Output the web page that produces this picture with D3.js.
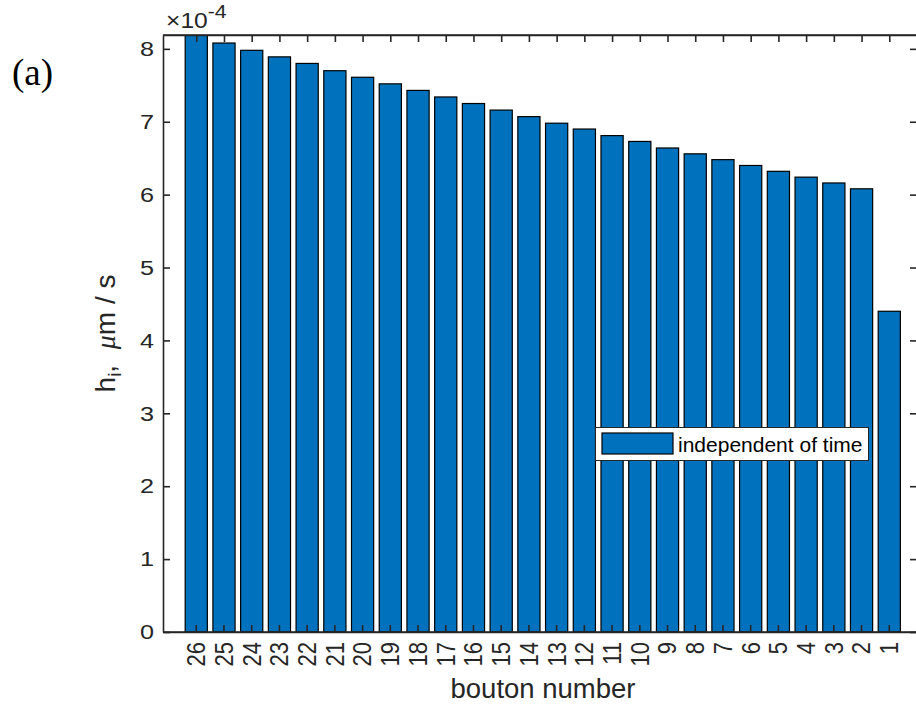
<!DOCTYPE html>
<html>
<head>
<meta charset="utf-8">
<script src="https://cdn.jsdelivr.net/npm/d3@7"></script>
<style>
  html, body { margin: 0; padding: 0; background: #fff; }
  svg { display: block; }
</style>
</head>
<body>
<svg id="chart" width="916" height="710"></svg>
<script>
// ---- data ----
const boutons = [26, 25, 24, 23, 22, 21, 20, 19, 18, 17, 16, 15, 14, 13, 12, 11, 10, 9, 8, 7, 6, 5, 4, 3, 2, 1];
const hValues = [8.19, 8.08, 7.98, 7.89, 7.80, 7.70, 7.61, 7.52, 7.43, 7.34, 7.25, 7.16, 7.07, 6.98, 6.90, 6.81, 6.73, 6.64, 6.56, 6.48, 6.40, 6.32, 6.24, 6.16, 6.08, 4.40]; // ×10^-4 µm/s
const yTicks = [0, 1, 2, 3, 4, 5, 6, 7, 8];
const xTicks = boutons.slice();
const seriesName = "independent of time";
const yExponent = "-4";

// ---- layout ----
const L = 163, R = 917, T = 35, B = 632;
const axisColor = "#262626";
const barColor = "#0072BD";
const sans = "'Liberation Sans', Arial, Helvetica, sans-serif";
const serif = "'Liberation Serif', 'Times New Roman', serif";

const svg = d3.select("#chart");

const x = d3.scaleLinear().domain([27.2, 0]).range([L, R]);
const y = d3.scaleLinear().domain([0, d3.max(hValues)]).range([B, T]);
const barW = 0.8 * Math.abs(x(1) - x(0));

svg.append("defs").append("clipPath").attr("id", "plotclip")
  .append("rect").attr("x", L).attr("y", T).attr("width", R - L).attr("height", B - T);

// bars
svg.append("g").attr("clip-path", "url(#plotclip)")
  .selectAll("rect").data(boutons.map((b, i) => ({ b, v: hValues[i] })))
  .join("rect")
  .attr("x", d => x(d.b) - barW / 2)
  .attr("width", barW)
  .attr("y", d => y(d.v))
  .attr("height", d => B - y(d.v))
  .attr("fill", barColor)
  .attr("stroke", "#000")
  .attr("stroke-width", 1.2);

// axes (MATLAB style: inward ticks, box)
const tickLen = 7;
const gAx = svg.append("g");
const sy = 1.2;   // horizontal stretch of y tick labels
const sx = 1.15;  // stretch of x tick labels (along screen x)

// bottom axis
const xAxisB = d3.axisBottom(x).tickValues(xTicks).tickSize(-tickLen).tickSizeOuter(0).tickFormat(d3.format("d"));
const gb = gAx.append("g").attr("transform", `translate(0,${B})`).call(xAxisB);
gb.selectAll(".tick").attr("transform", null);
gb.selectAll(".tick line").attr("x1", d => x(d)).attr("x2", d => x(d));
gb.selectAll("text")
  .attr("transform", d => `translate(${x(d)},10) scale(${sx},1) rotate(-90)`)
  .attr("x", 0).attr("y", 0).attr("dy", "0.35em")
  .attr("text-anchor", "end")
  .attr("font-size", 22);

// top axis
const xAxisT = d3.axisTop(x).tickValues(xTicks).tickSize(-tickLen).tickSizeOuter(0).tickFormat("");
gAx.append("g").attr("transform", `translate(0,${T})`).call(xAxisT);

// left axis
const yAxisL = d3.axisLeft(y).tickValues(yTicks).tickSize(-tickLen).tickSizeOuter(0).tickFormat(d3.format("d"));
const gl = gAx.append("g").attr("transform", `translate(${L},0)`).call(yAxisL);
gl.selectAll("text")
  .attr("x", -9 / sy)
  .attr("transform", `scale(${sy},1)`)
  .attr("font-size", 21);

// right axis
const yAxisR = d3.axisRight(y).tickValues(yTicks).tickSize(-tickLen).tickSizeOuter(0).tickFormat("");
gAx.append("g").attr("transform", `translate(${R},0)`).call(yAxisR);

gAx.selectAll("path.domain").attr("stroke", axisColor).attr("stroke-width", 1.6);
gAx.selectAll(".tick line").attr("stroke", axisColor).attr("stroke-width", 1.6);
gAx.selectAll(".tick text").attr("fill", axisColor).attr("font-family", sans);

// box lines
gAx.append("line").attr("x1", L).attr("x2", R).attr("y1", T).attr("y2", T).attr("stroke", axisColor).attr("stroke-width", 1.6);
gAx.append("line").attr("x1", L).attr("x2", R).attr("y1", B).attr("y2", B).attr("stroke", axisColor).attr("stroke-width", 1.6);

// exponent label
const ex = svg.append("text")
  .attr("transform", `translate(${L + 3},28) scale(1.12,1)`)
  .attr("font-family", sans).attr("font-size", 22).attr("fill", axisColor);
ex.append("tspan").text("\u00D710");
ex.append("tspan").attr("dy", -10).attr("font-size", 19).text(yExponent);

// x label
svg.append("text").attr("x", (L + R) / 2 + 3).attr("y", 698)
  .attr("text-anchor", "middle").attr("font-family", sans).attr("font-size", 27.5).attr("fill", axisColor)
  .text("bouton number");

// y label
const yl = svg.append("text")
  .attr("transform", `translate(115,${(T + B) / 2}) rotate(-90)`)
  .attr("text-anchor", "middle").attr("font-family", sans).attr("font-size", 28).attr("fill", axisColor);
yl.append("tspan").text("h");
yl.append("tspan").attr("dy", 6).attr("font-size", 19).text("i");
yl.append("tspan").attr("dy", -6).text(",\u00A0\u00A0");
yl.append("tspan").attr("font-family", serif).attr("font-style", "italic").text("\u03BC");
yl.append("tspan").text("m / s");

// panel label
svg.append("text").attr("x", 12).attr("y", 85)
  .attr("font-family", serif).attr("font-size", 37).attr("fill", "#000")
  .text("(a)");

// legend
const lg = svg.append("g");
lg.append("rect").attr("x", 595.5).attr("y", 427.5).attr("width", 273).attr("height", 33)
  .attr("fill", "#fff").attr("stroke", axisColor).attr("stroke-width", 1);
lg.append("rect").attr("x", 602).attr("y", 433).attr("width", 71).attr("height", 21)
  .attr("fill", barColor).attr("stroke", "#000").attr("stroke-width", 1.2);
lg.append("text").attr("x", 678).attr("y", 452)
  .attr("font-family", sans).attr("font-size", 21).attr("fill", "#000")
  .text(seriesName);
</script>
</body>
</html>
